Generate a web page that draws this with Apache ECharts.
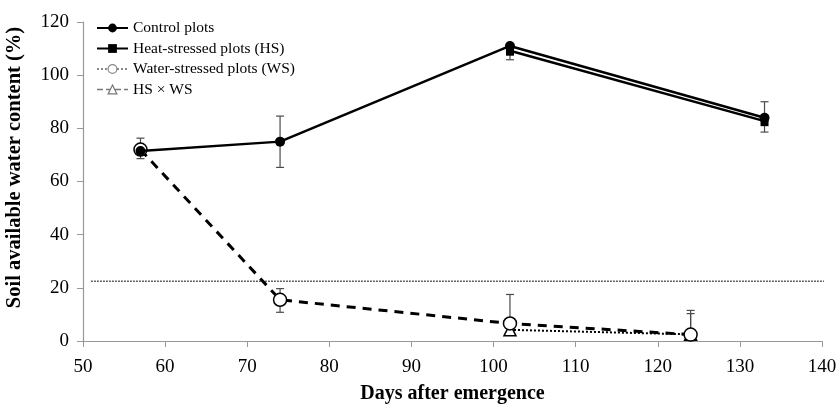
<!DOCTYPE html>
<html>
<head>
<meta charset="utf-8">
<script src="https://cdn.jsdelivr.net/npm/echarts@6/dist/echarts.min.js"></script>
<style>html,body{margin:0;padding:0;background:#fff}#c{width:838px;height:404px}</style>
</head>
<body>
<div id="c"></div>
<script>
// ---- data ----
const seriesNames = ['Control plots', 'Heat-stressed plots (HS)', 'Water-stressed plots (WS)', 'HS \u00d7 WS'];

const controlDays = [57, 74, 102, 133];
const controlVals = [71.5, 75, 111, 84];
const controlErrLow = [71.5, 65.3, 111, 84];
const controlErrHigh = [71.5, 84.6, 111, 90];

const hsDays = [102, 133];
const hsVals = [109.2, 82.7];
const hsErrLow = [105.8, 78.6];
const hsErrHigh = [109.2, 82.7];

const wsDays = [57, 74, 102, 124];
const wsVals = [72, 15.5, 6.6, 2.4];
const wsErrLow = [68.6, 10.8, 6.6, 2.4];
const wsErrHigh = [76.3, 19.7, 17.5, 11.5];

const hxwDays = [102, 124];
const hxwVals = [4.2, 2.5];
const hxwErrLow = [4.2, 2.5];
const hxwErrHigh = [4.2, 10.3];

const thresholdX = [51, 142];
const thresholdY = [22.5, 22.5];

const xTicks = [50, 60, 70, 80, 90, 100, 110, 120, 130, 140];
const yTicks = [0, 20, 40, 60, 80, 100, 120];

// ---- build ----
const zip = (a, b) => a.map((v, i) => [v, b[i]]);
const errData = (d, lo, hi) => d.map((v, i) => [v, lo[i], hi[i]]);

function errRender(params, api) {
  const x = api.value(0), lo = api.value(1), hi = api.value(2);
  const pHi = api.coord([x, hi]);
  const pLo = api.coord([x, lo]);
  const w = 4;
  const st = { stroke: '#4a4a4a', lineWidth: 1.2 };
  const children = [
    { type: 'line', shape: { x1: pHi[0], y1: pHi[1], x2: pLo[0], y2: pLo[1] }, style: st }
  ];
  if (hi !== lo) {
    children.push({ type: 'line', shape: { x1: pHi[0] - w, y1: pHi[1], x2: pHi[0] + w, y2: pHi[1] }, style: st });
    children.push({ type: 'line', shape: { x1: pLo[0] - w, y1: pLo[1], x2: pLo[0] + w, y2: pLo[1] }, style: st });
  }
  return { type: 'group', children };
}

const FONT = '"Liberation Serif", "Times New Roman", serif';
const chart = echarts.init(document.getElementById('c'), null, { renderer: 'canvas' });

chart.setOption({
  animation: false,
  textStyle: { fontFamily: FONT, color: '#000' },
  grid: { left: 83, right: 16, top: 22, bottom: 63, containLabel: false, outerBoundsMode: 'none' },
  legend: {
    orient: 'vertical',
    left: 91,
    top: 15,
    itemWidth: 31,
    itemHeight: 11,
    itemGap: 4.5,
    textStyle: { fontFamily: FONT, fontSize: 15.5, color: '#000' },
    data: [
      { name: seriesNames[0] },
      { name: seriesNames[1] },
      { name: seriesNames[2], itemStyle: { color: '#fff', borderColor: '#888', borderWidth: 1.2 }, lineStyle: { color: '#888', type: 'dotted', width: 2 } },
      { name: seriesNames[3], itemStyle: { color: '#fff', borderColor: '#777', borderWidth: 1.2 }, lineStyle: { color: '#777', type: [6, 3], width: 1.5 } }
    ]
  },
  xAxis: {
    type: 'value',
    min: 50, max: 140, interval: 10,
    name: 'Days after emergence',
    nameLocation: 'middle',
    nameGap: 43,
    nameTextStyle: { fontFamily: FONT, fontSize: 20, fontWeight: 'bold', color: '#000' },
    axisLine: { show: true, onZero: false, lineStyle: { color: '#999', width: 1.2 } },
    axisTick: { show: true, length: 6, lineStyle: { color: '#999' } },
    splitLine: { show: false },
    axisLabel: { fontFamily: FONT, fontSize: 19, color: '#000', margin: 17,
      formatter: v => xTicks.includes(v) ? String(v) : '' }
  },
  yAxis: {
    type: 'value',
    min: 0, max: 120, interval: 20,
    name: 'Soil available water content (%)',
    nameLocation: 'middle',
    nameGap: 58,
    nameRotate: 90,
    nameTextStyle: { fontFamily: FONT, fontSize: 20.5, fontWeight: 'bold', color: '#000', padding: [0, 0, 0, 28] },
    axisLine: { show: true, lineStyle: { color: '#999', width: 1.2 } },
    axisTick: { show: true, length: 6, lineStyle: { color: '#999' } },
    splitLine: { show: false },
    axisLabel: { fontFamily: FONT, fontSize: 19, color: '#000', margin: 14,
      formatter: v => yTicks.includes(v) ? String(v) : '' }
  },
  series: [
    {
      name: 'threshold', type: 'line', data: zip(thresholdX, thresholdY),
      symbol: 'none', clip: false, silent: true, z: 1,
      lineStyle: { color: '#333', width: 1.5, type: [1.5, 1.5] }
    },
    { name: 'errC', type: 'custom', renderItem: errRender, data: errData(controlDays, controlErrLow, controlErrHigh), z: 1 },
    { name: 'errH', type: 'custom', renderItem: errRender, data: errData(hsDays, hsErrLow, hsErrHigh), z: 1 },
    { name: 'errW', type: 'custom', renderItem: errRender, data: errData(wsDays, wsErrLow, wsErrHigh), z: 1 },
    { name: 'errX', type: 'custom', renderItem: errRender, data: errData(hxwDays, hxwErrLow, hxwErrHigh), z: 1 },
    {
      name: seriesNames[3], type: 'line', data: zip(hxwDays, hxwVals),
      symbol: 'triangle', symbolSize: 12, z: 3,
      itemStyle: { color: '#fff', borderColor: '#000', borderWidth: 1.5 },
      lineStyle: { color: '#000', width: 2, type: [2, 2] }
    },
    {
      name: seriesNames[2], type: 'line', data: zip(wsDays, wsVals),
      symbol: 'circle', symbolSize: 13, z: 4,
      itemStyle: { color: '#fff', borderColor: '#000', borderWidth: 1.5 },
      lineStyle: { color: '#000', width: 3, type: [9, 7] }
    },
    {
      name: seriesNames[1], type: 'line', data: zip(hsDays, hsVals),
      symbol: 'rect', symbolSize: [8, 10], z: 5,
      itemStyle: { color: '#000' },
      lineStyle: { color: '#000', width: 2.5 }
    },
    {
      name: seriesNames[0], type: 'line', data: zip(controlDays, controlVals),
      symbol: 'circle', symbolSize: 10, z: 5,
      itemStyle: { color: '#000' },
      lineStyle: { color: '#000', width: 2.5 }
    }
  ]
});
</script>
</body>
</html>
